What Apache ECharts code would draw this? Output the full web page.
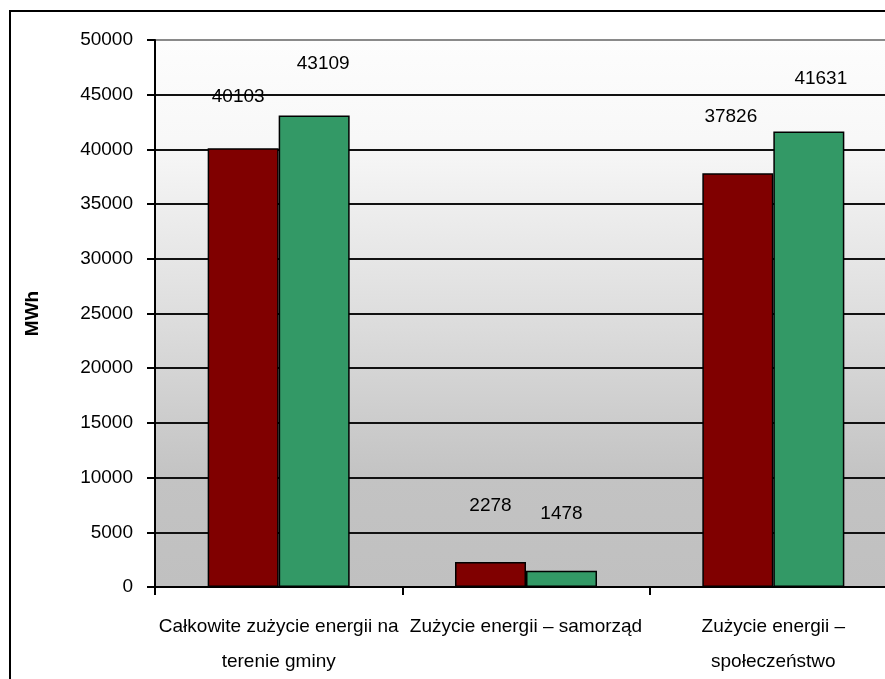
<!DOCTYPE html>
<html>
<head>
<meta charset="utf-8">
<script src="https://cdn.jsdelivr.net/npm/echarts@6/dist/echarts.min.js"></script>
<style>html,body{margin:0;padding:0;background:#fff;}#c{width:885px;height:679px;}</style>
</head>
<body>
<div id="c"></div>
<script>
var categories = ['Całkowite zużycie energii na\nterenie gminy', 'Zużycie energii – samorząd', 'Zużycie energii –\nspołeczeństwo'];
var seriesA = [40103, 2278, 37826];
var seriesB = [43109, 1478, 41631];
var yTicks = {min: 0, max: 50000, interval: 5000};

var FONT = '"Liberation Sans", Arial, sans-serif';
var FS = 19;
var chart = echarts.init(document.getElementById('c'));

function mk(vals, offs) {
  return vals.map(function (v, i) {
    return {value: v, label: {offset: offs[i]}};
  });
}

var option = {
  animation: false,
  backgroundColor: '#fff',
  textStyle: {fontFamily: FONT},
  grid: {
    left: 155, top: 40, height: 547, width: 742,
    outerBoundsMode: 'none',
    containLabel: false,
    show: true, borderWidth: 0,
    backgroundColor: {
      type: 'linear', x: 0, y: 0, x2: 0, y2: 1,
      colorStops: [
        {offset: 0, color: '#fdfdfd'},
        {offset: 0.18, color: '#f8f8f8'},
        {offset: 0.5, color: '#dedede'},
        {offset: 0.8, color: '#c3c3c3'},
        {offset: 1, color: '#c0c0c0'}
      ]
    }
  },
  xAxis: {
    type: 'category',
    data: categories,
    axisLine: {lineStyle: {color: '#000', width: 2}},
    axisTick: {show: true, length: 8, lineStyle: {color: '#000', width: 2}},
    axisLabel: {color: '#000', fontSize: FS, lineHeight: 35, margin: 22, fontFamily: FONT, interval: 0}
  },
  yAxis: {
    type: 'value',
    min: yTicks.min, max: yTicks.max, interval: yTicks.interval,
    name: 'MWh',
    nameLocation: 'middle',
    nameGap: 113,
    nameTextStyle: {color: '#000', fontWeight: 'bold', fontSize: FS, fontFamily: FONT},
    axisLine: {show: true, lineStyle: {color: '#000', width: 2}},
    axisTick: {show: true, length: 8, lineStyle: {color: '#000', width: 2}},
    axisLabel: {color: '#000', fontSize: FS, margin: 22, fontFamily: FONT,
      formatter: function (v) { return String(v); }},
    splitLine: {show: true, lineStyle: {
      color: ['#111', '#111', '#111', '#111', '#111', '#111', '#111', '#111', '#111', '#111', '#8a8a8a'],
      width: 2}}
  },
  series: [
    {
      type: 'bar',
      data: mk(seriesA, [[-5, 0], [0, -5], [-7, -5]]),
      barWidth: 71,
      barGap: '0%',
      itemStyle: {color: '#800000', borderColor: '#000', borderWidth: 1.5},
      label: {show: true, position: 'top', distance: 42, color: '#000', fontSize: FS, fontFamily: FONT}
    },
    {
      type: 'bar',
      data: mk(seriesB, [[9, 0], [0, -6], [12, -1]]),
      barWidth: 71,
      barGap: '0%',
      itemStyle: {color: '#339966', borderColor: '#000', borderWidth: 1.5},
      label: {show: true, position: 'top', distance: 42, color: '#000', fontSize: FS, fontFamily: FONT}
    }
  ],
  graphic: [{
    type: 'rect',
    shape: {x: 10, y: 11, width: 1000, height: 1000},
    style: {fill: null, stroke: '#000', lineWidth: 2},
    silent: true, z: 100
  }]
};
chart.setOption(option);
</script>
</body>
</html>
